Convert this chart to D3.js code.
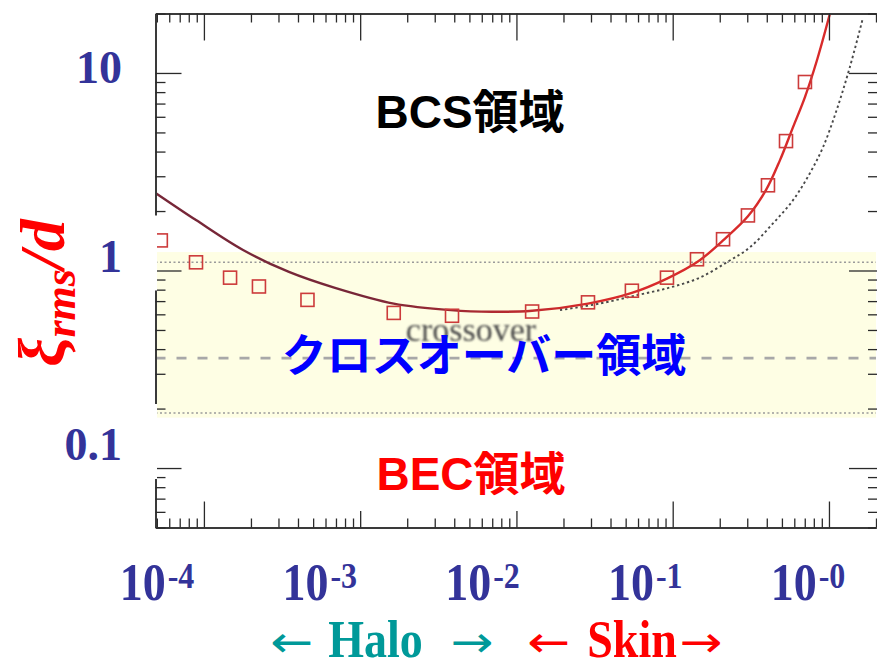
<!DOCTYPE html>
<html>
<head>
<meta charset="utf-8">
<script src="https://cdn.jsdelivr.net/npm/d3@7"></script>
<style>
  html, body { margin: 0; padding: 0; background: #ffffff; }
  svg { display: block; }
</style>
</head>
<body>
<svg id="chart" width="877" height="660"></svg>
<script>
// ---- data -------------------------------------------------------------
// calculated pair sizes (open squares): density ratio and xi_rms / d
const pointDensity = [5.3e-5, 8.9e-5, 1.47e-4, 2.25e-4, 4.6e-4, 1.64e-3, 3.87e-3, 0.0126, 0.0287,
                      0.0548, 0.0919, 0.143, 0.210, 0.303, 0.407, 0.531, 0.702];
const pointSize    = [1.42, 1.10, 0.92, 0.83, 0.71, 0.61, 0.59, 0.62, 0.69,
                      0.79, 0.92, 1.14, 1.44, 1.90, 2.70, 4.52, 9.0];

// solid curve
const fitDensity = [4.9e-5, 8.9e-5, 1.78e-4, 3.5e-4, 6.9e-4, 1.64e-3, 3.8e-3, 7.0e-3, 0.0126, 0.0287,
                    0.0548, 0.0919, 0.145, 0.210, 0.303, 0.395, 0.486, 0.589, 0.702, 0.838, 1.01];
const fitSize    = [2.47, 1.80, 1.27, 0.984, 0.817, 0.68, 0.63, 0.618, 0.625, 0.68,
                    0.77, 0.91, 1.11, 1.42, 1.88, 2.55, 3.62, 5.32, 7.55, 11.6, 19.7];

// dotted reference curve
const refDensity = [0.019, 0.034, 0.059, 0.096, 0.149, 0.226, 0.312, 0.432, 0.589, 0.755, 0.916, 1.12, 1.36, 1.65];
const refSize    = [0.63, 0.68, 0.75, 0.82, 0.92, 1.11, 1.31, 1.71, 2.27, 3.11, 4.21, 6.49, 10.7, 19.0];

// crossover region and its guide lines
const crossoverBand  = [0.18, 1.24];
const boundaryLines  = [1.1, 0.19];
const unitaryLine    = [0.36];

// axis labels
const xLabelExponents = ["-4", "-3", "-2", "-1", "-0"];
const yLabelTexts     = ["10", "1", "0.1"];
const xDecades        = [1e-4, 1e-3, 1e-2, 1e-1, 1];
const yDecades        = [0.1, 1, 10];

// ---- layout -----------------------------------------------------------
const svg = d3.select("#chart");
const plotL = 155.5, plotR = 876, plotT = 13.5, plotB = 527.5;

const x = d3.scaleLog().domain([4.9e-5, 2]).range([plotL, plotR]);
const y = d3.scaleLog().domain([0.05, 20]).range([plotB, plotT]);

const defs = svg.append("defs");
defs.append("clipPath").attr("id", "plotClip")
  .append("rect").attr("x", plotL).attr("y", plotT)
  .attr("width", plotR - plotL).attr("height", plotB - plotT);
defs.append("filter").attr("id", "soft").attr("x", "-5%").attr("y", "-5%")
  .attr("width", "110%").attr("height", "110%")
  .append("feGaussianBlur").attr("stdDeviation", 0.75);
defs.append("filter").attr("id", "softer")
  .append("feGaussianBlur").attr("stdDeviation", 1.0);

const grad = defs.append("linearGradient").attr("id", "fitStroke")
  .attr("gradientUnits", "userSpaceOnUse")
  .attr("x1", x(1e-3)).attr("x2", x(3e-2)).attr("y1", 0).attr("y2", 0);
grad.append("stop").attr("offset", 0).attr("stop-color", "#772838");
grad.append("stop").attr("offset", 1).attr("stop-color", "#d82a2a");

const plot = svg.append("g").attr("clip-path", "url(#plotClip)");
const marks = plot.append("g").attr("filter", "url(#soft)");

// crossover band
marks.append("rect")
  .attr("x", plotL).attr("width", plotR - plotL)
  .attr("y", y(crossoverBand[1]))
  .attr("height", y(crossoverBand[0]) - y(crossoverBand[1]))
  .attr("fill", "#fefee4");

marks.selectAll("line.boundary").data(boundaryLines).join("line")
  .attr("class", "boundary")
  .attr("x1", plotL).attr("x2", plotR)
  .attr("y1", d => y(d)).attr("y2", d => y(d))
  .attr("stroke", "#9a9a9a").attr("stroke-width", 1.6)
  .attr("stroke-dasharray", "2,2.5");

marks.selectAll("line.unitary").data(unitaryLine).join("line")
  .attr("class", "unitary")
  .attr("x1", plotL).attr("x2", plotR)
  .attr("y1", d => y(d)).attr("y2", d => y(d))
  .attr("stroke", "#a8a8a8").attr("stroke-width", 2.6)
  .attr("stroke-dasharray", "10,11");

// "crossover" caption
plot.append("text")
  .attr("x", 471).attr("y", 341)
  .attr("text-anchor", "middle")
  .attr("font-family", "'Liberation Serif', 'Times New Roman', serif")
  .attr("font-size", 34)
  .attr("fill", "#4a4a4a")
  .attr("filter", "url(#softer)")
  .text("crossover");

const line = d3.line().x(d => x(d[0])).y(d => y(d[1])).curve(d3.curveCatmullRom.alpha(0.5));

// dotted reference curve
marks.append("path")
  .datum(d3.zip(refDensity, refSize))
  .attr("d", line)
  .attr("fill", "none")
  .attr("stroke", "#4a4a4a").attr("stroke-width", 1.9)
  .attr("stroke-dasharray", "2.4,2.8");

// solid curve
marks.append("path")
  .datum(d3.zip(fitDensity, fitSize))
  .attr("d", line)
  .attr("fill", "none")
  .attr("stroke", "url(#fitStroke)").attr("stroke-width", 2.4);

// squares
const sq = 13;
marks.selectAll("rect.pt").data(d3.zip(pointDensity, pointSize)).join("rect")
  .attr("class", "pt")
  .attr("x", d => x(d[0]) - sq / 2).attr("y", d => y(d[1]) - sq / 2)
  .attr("width", sq).attr("height", sq)
  .attr("fill", "none")
  .attr("stroke", "#cc3a3a").attr("stroke-width", 1.6);

// ---- frame and log ticks ------------------------------------------------
const frame = svg.append("g");
const xMinor = x.ticks().filter(v => !xDecades.some(d => Math.abs(v / d - 1) < 1e-6));
const yMinor = y.ticks().filter(v => !yDecades.some(d => Math.abs(v / d - 1) < 1e-6));

function styleAxis(g, keepDomain) {
  g.selectAll("text").remove();
  if (!keepDomain) g.select(".domain").remove();
  g.select(".domain").attr("stroke", "#3a3a3a").attr("stroke-width", 2);
  g.selectAll(".tick line").attr("stroke", "#2a2a2a").attr("stroke-width", 1.3);
}

// bottom
frame.append("g").attr("transform", `translate(0,${plotB})`)
  .call(d3.axisBottom(x).tickValues(xMinor).tickSizeInner(-9).tickSizeOuter(0).tickFormat(""))
  .call(g => styleAxis(g, true));
frame.append("g").attr("transform", `translate(0,${plotB})`)
  .call(d3.axisBottom(x).tickValues(xDecades).tickSizeInner(-26).tickSizeOuter(0).tickFormat(""))
  .call(g => styleAxis(g, false));
// top
frame.append("g").attr("transform", `translate(0,${plotT})`)
  .call(d3.axisTop(x).tickValues(xMinor).tickSizeInner(-9).tickSizeOuter(0).tickFormat(""))
  .call(g => styleAxis(g, true));
frame.append("g").attr("transform", `translate(0,${plotT})`)
  .call(d3.axisTop(x).tickValues(xDecades).tickSizeInner(-27).tickSizeOuter(0).tickFormat(""))
  .call(g => styleAxis(g, false));
// left
frame.append("g").attr("transform", `translate(${plotL},0)`)
  .call(d3.axisLeft(y).tickValues(yMinor).tickSizeInner(-10).tickSizeOuter(0).tickFormat(""))
  .call(g => styleAxis(g, true));
frame.append("g").attr("transform", `translate(${plotL},0)`)
  .call(d3.axisLeft(y).tickValues(yDecades).tickSizeInner(-26).tickSizeOuter(0).tickFormat(""))
  .call(g => styleAxis(g, false));
// right (ticks only)
frame.append("g").attr("transform", `translate(${plotR + 1},0)`)
  .call(d3.axisRight(y).tickValues(yMinor).tickSizeInner(-9).tickSizeOuter(0).tickFormat(""))
  .call(g => styleAxis(g, false));
frame.append("g").attr("transform", `translate(${plotR + 1},0)`)
  .call(d3.axisRight(y).tickValues(yDecades).tickSizeInner(-28).tickSizeOuter(0).tickFormat(""))
  .call(g => styleAxis(g, false));

// ---- overlay labels -------------------------------------------------------
const serif = "'Liberation Serif', 'Times New Roman', serif";
const sans = "'Liberation Sans', Arial, 'Noto Sans CJK JP', sans-serif";
const navy = "#333399";

// y labels, each on a white card
const yLabelPos = d3.scalePoint().domain(yLabelTexts).range([83, 460]);
const yl = svg.append("g");
yl.selectAll("rect").data(yLabelTexts.filter(t => +t < 10)).join("rect")
  .attr("x", 0).attr("width", 157)
  .attr("y", d => yLabelPos(d) - 56).attr("height", 75)
  .attr("fill", "#ffffff");
yl.selectAll("text").data(yLabelTexts).join("text")
  .attr("x", 122).attr("y", d => yLabelPos(d))
  .attr("text-anchor", "end")
  .attr("font-family", serif).attr("font-weight", "bold")
  .attr("font-size", 46).attr("fill", navy)
  .text(d => d);

// y title
const title = svg.append("text")
  .attr("transform", "translate(64,293) rotate(-90)")
  .attr("text-anchor", "middle")
  .attr("font-family", serif).attr("font-style", "italic").attr("font-weight", "bold")
  .attr("fill", "#ff0000");
title.append("tspan").attr("font-size", 65).text("ξ");
title.append("tspan").attr("font-size", 44).attr("dy", 11).text("rms");
title.append("tspan").attr("font-size", 64).attr("dy", -11).text("/d");

// x labels
const xLabelPos = d3.scalePoint().domain(xLabelExponents).range([157, 808]);
svg.append("g").selectAll("g").data(xLabelExponents).join("g")
  .attr("transform", d => `translate(${xLabelPos(d)},600) scale(1,1.15)`)
  .append("text")
  .attr("text-anchor", "middle")
  .attr("font-family", serif).attr("font-weight", "bold").attr("fill", navy)
  .call(t => t.append("tspan").attr("font-size", 46).text("10"))
  .call(t => t.append("tspan").attr("font-size", 32).attr("dy", -10.5).attr("dx", 2).text(d => d));

// regime labels
svg.append("text")
  .attr("x", 470).attr("y", 128).attr("text-anchor", "middle")
  .attr("font-family", sans).attr("font-weight", "bold")
  .attr("font-size", 46).attr("fill", "#000000")
  .text("BCS領域");

svg.append("text")
  .attr("x", 484).attr("y", 372).attr("text-anchor", "middle")
  .attr("font-family", "'Noto Sans CJK JP', sans-serif").attr("font-weight", "bold")
  .attr("font-size", 45).attr("fill", "#0000ff")
  .text("クロスオーバー領域");

svg.append("rect")
  .attr("x", 290).attr("width", 320).attr("y", 440).attr("height", 71)
  .attr("fill", "#ffffff");
svg.append("text")
  .attr("x", 471).attr("y", 490).attr("text-anchor", "middle")
  .attr("font-family", sans).attr("font-weight", "bold")
  .attr("font-size", 46).attr("fill", "#ff0000")
  .text("BEC領域");

// halo / skin arrows, each arrow stretched to a fixed length
function arrowLabel(cx, word, gapBefore, gapAfter, color) {
  const arrowW = 43;
  const g = svg.append("g")
    .attr("transform", "translate(0,657) scale(1,1.15)")
    .attr("fill", color);
  const w = g.append("text")
    .attr("font-family", serif).attr("font-size", 46).attr("font-weight", "bold")
    .text(word);
  const ww = w.node().getComputedTextLength();
  const x0 = cx - (arrowW * 2 + gapBefore + ww + gapAfter) / 2;
  const arrow = (ax, ch) => g.append("text").attr("x", ax)
    .attr("font-family", "'DejaVu Sans', sans-serif").attr("font-size", 38)
    .attr("textLength", arrowW).attr("lengthAdjust", "spacingAndGlyphs")
    .text(ch);
  arrow(x0, "←");
  w.attr("x", x0 + arrowW + gapBefore);
  arrow(x0 + arrowW + gapBefore + ww + gapAfter, "→");
}
arrowLabel(382, "Halo", 15, 28, "#009999");
arrowLabel(625, "Skin", 17, 3, "#ff0000");
</script>
</body>
</html>
